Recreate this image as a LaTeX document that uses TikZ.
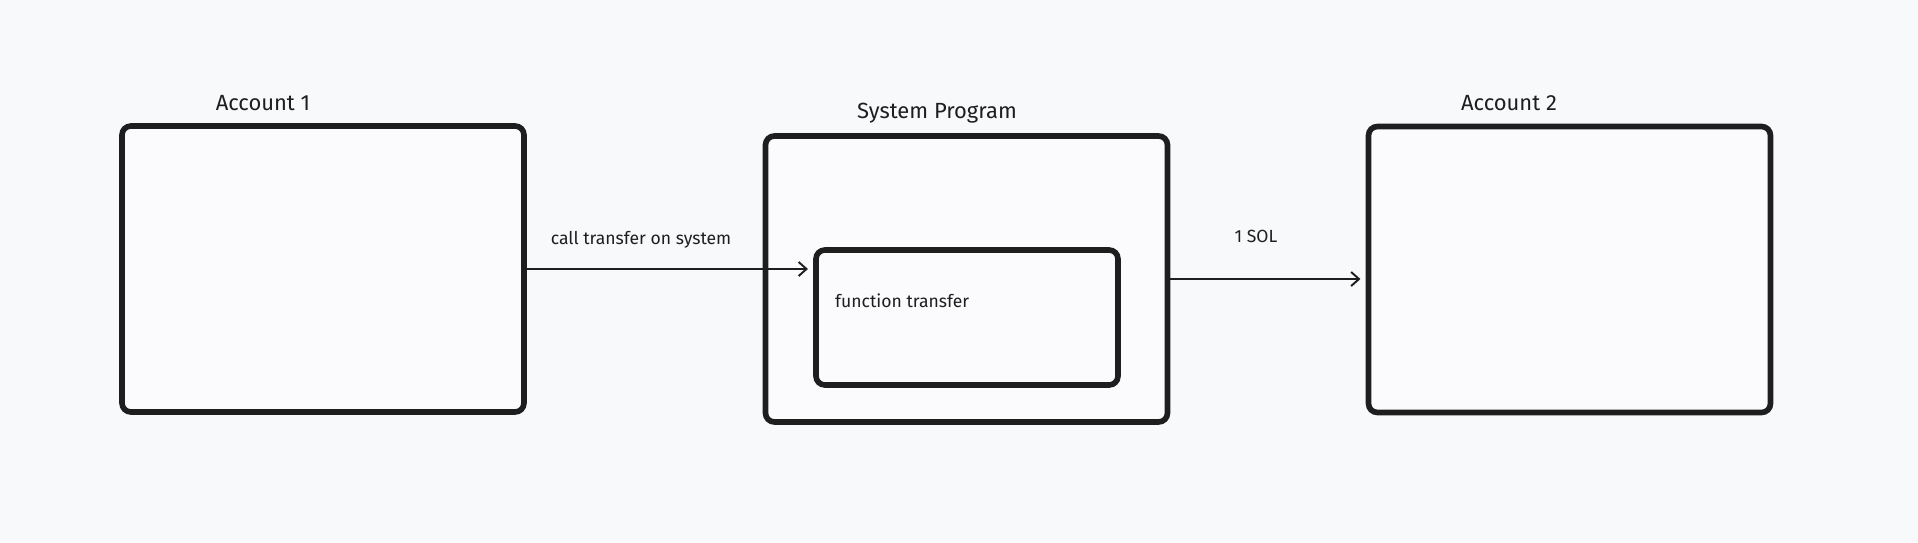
\documentclass[tikz,border=0pt]{standalone}
\usepackage{fontspec}
\setmainfont{Fira Sans}
\usetikzlibrary{arrows.meta,positioning}
\definecolor{PaperGrey}{RGB}{248,249,251}
\definecolor{InkBlack}{RGB}{30,30,30}

\begin{document}
\begin{tikzpicture}[x=0.02cm,y=-0.02cm,
    acctbox/.style={draw=InkBlack,line width=3.2pt,rounded corners=5pt,fill=white!40!PaperGrey,
      minimum width=8.04cm,minimum height=5.72cm,inner sep=0pt},
    title/.style={text=InkBlack,font=\fontsize{12.5}{15}\selectfont},
    label/.style={text=InkBlack,font=\fontsize{10}{12}\selectfont},
    flow/.style={-{Straight Barb[length=4.5pt,width=8pt]},draw=InkBlack,line width=1.1pt}]
  \fill[PaperGrey] (0,0) rectangle (1918,542);
  \useasboundingbox (0,0) rectangle (1918,542);
  % the two accounts and the program between them
  \node[acctbox] (acc1) at (323,269) {};
  \node[acctbox] (sys) at (966.5,279) {};
  \node[acctbox,minimum width=6.04cm,minimum height=2.7cm] (fn) at (967,317.5) {};
  \node[acctbox] (acc2) at (1569.5,269.5) {};
  \node[title] (acc1t) at (263,103) {Account 1};
  \node[title] (syst) at (937,113) {System Program};
  \node[title] (acc2t) at (1509,103) {Account 2};
  \node[label,anchor=west] (fnt) at (829,301) {function transfer};
  % calls
  \draw[flow,shorten >=3pt] (acc1.east) -- (acc1.east -| fn.west);
  \draw[flow,shorten >=3pt] (sys.east) -- (sys.east -| acc2.west);
  \node[label] (callt) at (641,240) {call transfer on system};
  \node[label] (solt) at (1256,236) {1 SOL};
\end{tikzpicture}
\end{document}
